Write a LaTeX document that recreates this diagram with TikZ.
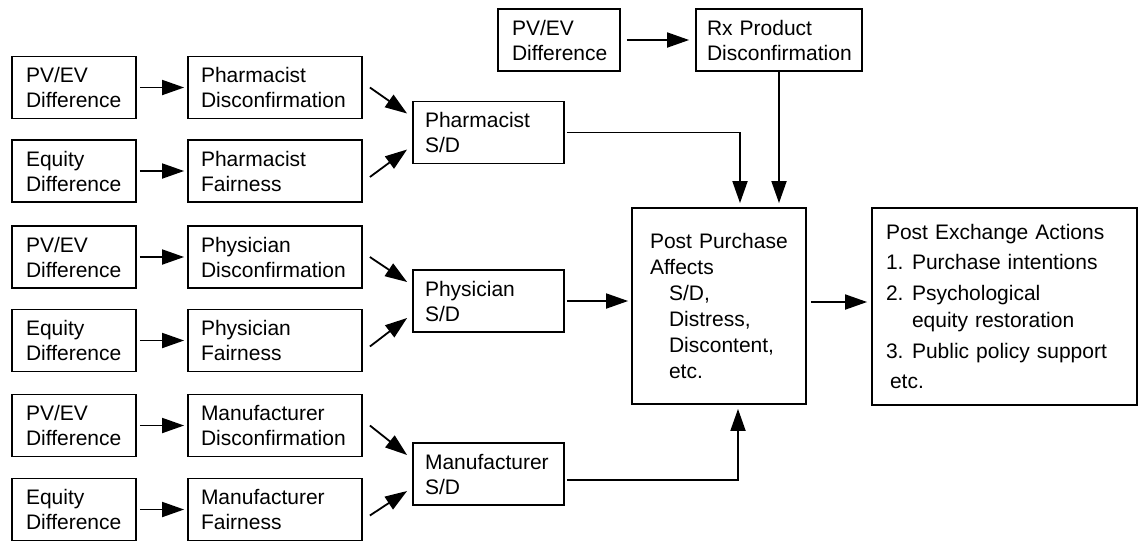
\documentclass[tikz,border=0pt]{standalone}
\usepackage{fontspec}
\setmainfont{Liberation Sans}
\usetikzlibrary{arrows.meta,positioning}

\begin{document}
\begin{tikzpicture}[x=1pt,y=-1pt,
		font=\fontsize{21}{25}\selectfont,
		line width=1.8pt,
		>={Triangle[length=22pt,width=15pt]},
		box/.style={draw,rectangle,align=left,inner xsep=14pt,inner ysep=0pt,minimum height=62pt},
		small/.style={box,text width=96pt},
		mid/.style={box,inner xsep=13pt,text width=148pt},
		sd/.style={box,inner xsep=12pt,text width=127pt}]
	\useasboundingbox (0,0) rectangle (1139,542);

	% three groups of inputs
	\foreach \grp/\who/\ya/\yb/\ys in {A/Pharmacist/87.5/171/132.5,
			B/Physician/257/340.5/301, C/Manufacturer/425.5/509.5/474}
	{
		\node[small] (pv\grp) at (74,\ya) {PV/EV\\Difference};
		\node[small] (eq\grp) at (74,\yb) {Equity\\Difference};
		\node[mid] (dis\grp) at (275,\ya) {\who\\Disconfirmation};
		\node[mid] (fair\grp) at (275,\yb) {\who\\Fairness};
		\node[sd] (sd\grp) at (488.5,\ys) {\who\\S/D};
		\path[->,shorten <=3pt,shorten >=3pt]
		(pv\grp) edge (dis\grp)
		(eq\grp) edge (fair\grp);
		\draw[->] ([xshift=7pt]dis\grp.east) -- ([xshift=-5pt,yshift=19pt]sd\grp.west);
		\draw[->] ([xshift=7pt,yshift=-6pt]fair\grp.east) -- ([xshift=-5pt,yshift=-17pt]sd\grp.west);
	}

	\node[box,text width=94pt] (pvRx) at (559,40) {PV/EV\\Difference};
	\node[box,text width=144pt,inner xsep=11pt] (rx) at (779,40) {Rx Product\\Disconfirmation};

	\node[draw,align=left,inner xsep=18pt,inner ysep=0pt,text width=138pt,minimum height=196pt,
		font=\fontsize{21}{26}\selectfont] (post) at (719,306)
	{Post Purchase\\Affects\\\hspace*{19pt}S/D,\\\hspace*{19pt}Distress,\\
		\hspace*{19pt}Discontent,\\\hspace*{19pt}etc.};

	\node[draw,align=left,inner xsep=14pt,inner ysep=0pt,text width=237pt,minimum height=197pt] (exch) at (1004.5,306.5)
	{Post Exchange Actions\\[5pt]
		\makebox[26pt][l]{1.}Purchase intentions\\[6pt]
		\makebox[26pt][l]{2.}Psychological\\[2pt]
		\hspace*{26pt}equity restoration\\[6pt]
		\makebox[26pt][l]{3.}Public policy support\\[5pt]
		\hspace*{4pt}etc.};

	\draw[->,shorten <=6pt,shorten >=6pt] (pvRx) -- (rx);
	\draw[->,shorten >=4pt] (rx.south) -- (rx.south |- post.north);
	\draw[->,shorten >=4pt] ([xshift=2pt]sdA.east) -| ([xshift=21pt]post.north);
	\draw[->,shorten >=3pt] ([xshift=2pt]sdB.east) -- (sdB.east -| post.west);
	\draw[->,shorten >=4pt] ([xshift=2pt,yshift=-6pt]sdC.east) -| ([xshift=19pt]post.south);
	\draw[->,shorten <=4pt,shorten >=4pt] ([yshift=4pt]post.east) -- ([yshift=4pt]post.east -| exch.west);
\end{tikzpicture}
\end{document}
